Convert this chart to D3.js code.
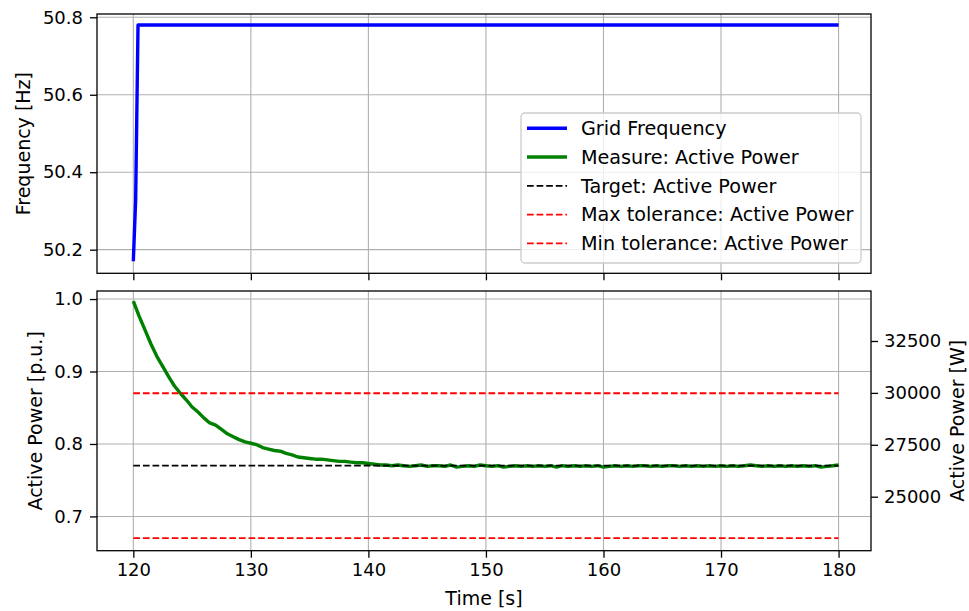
<!DOCTYPE html>
<html><head><meta charset="utf-8">
<script src="https://cdn.jsdelivr.net/npm/d3@7"></script>
<style>body{margin:0;background:#fff} text{font-family:"DejaVu Sans",sans-serif;fill:#000}</style>
</head><body><svg id="c" width="969" height="611"></svg>
<script>
// ---------- data ----------
const timeTicks = [120,130,140,150,160,170,180];
const freqTicks = [50.2,50.4,50.6,50.8];
const puTicks = [0.7,0.8,0.9,1.0];
const wTicks = [25000,27500,30000,32500];

const timeDomain = [116.91, 182.76];
const freqDomain = [50.139, 50.8085];
const puDomain = [0.6527, 1.0111];
const wDomain = [22399, 34908];

const freqTime = [120, 120.2, 120.4, 180];
const freqValues = [50.17, 50.33, 50.78, 50.78];

const powerTime = [
120,120.5,121,121.5,122,122.5,123,123.5,124,124.5,125,125.5,126,126.5,127,127.5,128,128.5,129,129.5,
130,130.5,131,131.5,132,132.5,133,133.5,134,134.5,135,135.5,136,136.5,137,137.5,138,138.5,139,139.5,
140,140.5,141,141.5,142,142.5,143,143.5,144,144.5,145,145.5,146,146.5,147,147.5,148,148.5,149,149.5,
150,150.5,151,151.5,152,152.5,153,153.5,154,154.5,155,155.5,156,156.5,157,157.5,158,158.5,159,159.5,
160,160.5,161,161.5,162,162.5,163,163.5,164,164.5,165,165.5,166,166.5,167,167.5,168,168.5,169,169.5,
170,170.5,171,171.5,172,172.5,173,173.5,174,174.5,175,175.5,176,176.5,177,177.5,178,178.5,179,179.5,
180];
const powerValues = [
0.997,0.976,0.957,0.938,0.921,0.907,0.893,0.880,0.870,0.861,0.851,0.844,0.836,0.829,0.826,0.820,0.814,0.810,0.806,0.803,
0.801,0.799,0.795,0.793,0.791,0.790,0.787,0.785,0.782,0.781,0.780,0.779,0.779,0.778,0.777,0.776,0.776,0.775,0.774,0.774,
0.773,0.772,0.771,0.771,0.770,0.771,0.770,0.769,0.770,0.771,0.769,0.770,0.770,0.769,0.771,0.768,0.769,0.770,0.769,0.771,
0.770,0.769,0.770,0.768,0.769,0.770,0.769,0.770,0.769,0.770,0.769,0.770,0.768,0.770,0.769,0.770,0.769,0.770,0.769,0.770,
0.768,0.769,0.770,0.769,0.770,0.769,0.770,0.770,0.769,0.770,0.769,0.770,0.770,0.769,0.770,0.769,0.770,0.769,0.770,0.769,
0.770,0.769,0.770,0.769,0.770,0.771,0.770,0.769,0.770,0.769,0.770,0.769,0.770,0.769,0.770,0.769,0.770,0.768,0.769,0.770,
0.771];

const refTime = [120, 180];
const targetValue = [0.77, 0.77];
const maxTolValue = [0.87, 0.87];
const minTolValue = [0.67, 0.67];

const legendLabels = ["Grid Frequency","Measure: Active Power","Target: Active Power","Max tolerance: Active Power","Min tolerance: Active Power"];

// ---------- layout ----------
const svg = d3.select("#c");
const L = 97, R = 871;
const T1 = 14, B1 = 273.3, T2 = 291, B2 = 550.7;
const FS = 18;
const AFS = 19;
const LFS = 19.2;
const TL = 7;

const x = d3.scaleLinear().domain(timeDomain).range([L, R]);
const yF = d3.scaleLinear().domain(freqDomain).range([B1, T1]);
const yP = d3.scaleLinear().domain(puDomain).range([B2, T2]);
const yW = d3.scaleLinear().domain(wDomain).range([B2, T2]);

svg.append("defs").html(`
 <clipPath id="clip1"><rect x="${L}" y="${T1}" width="${R-L}" height="${B1-T1}"/></clipPath>
 <clipPath id="clip2"><rect x="${L}" y="${T2}" width="${R-L}" height="${B2-T2}"/></clipPath>`);

function grid(yScale, yTicks, top, bottom) {
  const g = svg.append("g").attr("stroke","#b0b0b0").attr("stroke-width",1.1);
  g.selectAll("line.v").data(timeTicks).join("line")
    .attr("x1",d=>x(d)).attr("x2",d=>x(d)).attr("y1",top).attr("y2",bottom);
  g.selectAll("line.h").data(yTicks).join("line")
    .attr("x1",L).attr("x2",R).attr("y1",d=>yScale(d)).attr("y2",d=>yScale(d));
}
grid(yF, freqTicks, T1, B1);
grid(yP, puTicks, T2, B2);

// lines
const g1 = svg.append("g").attr("clip-path","url(#clip1)");
g1.append("path")
  .attr("d", d3.line().x((d,i)=>x(freqTime[i])).y(d=>yF(d))(freqValues))
  .attr("fill","none").attr("stroke","#0000ff").attr("stroke-width",3.4).attr("stroke-linejoin","round");

const g2 = svg.append("g").attr("clip-path","url(#clip2)");
const lineP = d3.line().x((d,i)=>x(powerTime[i])).y(d=>yP(d));
const lineRef = d3.line().x((d,i)=>x(refTime[i])).y(d=>yP(d));
g2.append("path").attr("d", lineP(powerValues))
  .attr("fill","none").attr("stroke","#008000").attr("stroke-width",3.4).attr("stroke-linejoin","round");
g2.append("path").attr("d", lineRef(targetValue))
  .attr("fill","none").attr("stroke","#000").attr("stroke-width",1.8).attr("stroke-dasharray","6.7,2.9");
g2.append("path").attr("d", lineRef(maxTolValue))
  .attr("fill","none").attr("stroke","#ff0000").attr("stroke-width",1.8).attr("stroke-dasharray","6.7,2.9");
g2.append("path").attr("d", lineRef(minTolValue))
  .attr("fill","none").attr("stroke","#ff0000").attr("stroke-width",1.8).attr("stroke-dasharray","6.7,2.9");

// axes
function styleAxis(g){
  g.select(".domain").remove();
  g.selectAll(".tick line").attr("stroke","#000").attr("stroke-width",1.3);
  g.selectAll(".tick text").attr("font-size",FS).attr("font-family","DejaVu Sans").attr("fill","#000");
}
// top plot
svg.append("g").attr("transform",`translate(0,${B1})`)
  .call(d3.axisBottom(x).tickValues(timeTicks).tickSize(TL).tickFormat(""))
  .call(styleAxis);
svg.append("g").attr("transform",`translate(${L},0)`)
  .call(d3.axisLeft(yF).tickValues(freqTicks).tickSize(TL).tickPadding(7).tickFormat(d3.format(".1f")))
  .call(styleAxis);
// bottom plot
svg.append("g").attr("transform",`translate(0,${B2})`)
  .call(d3.axisBottom(x).tickValues(timeTicks).tickSize(TL).tickPadding(6).tickFormat(d3.format("d")))
  .call(styleAxis);
svg.append("g").attr("transform",`translate(${L},0)`)
  .call(d3.axisLeft(yP).tickValues(puTicks).tickSize(TL).tickPadding(7).tickFormat(d3.format(".1f")))
  .call(styleAxis);
svg.append("g").attr("transform",`translate(${R},0)`)
  .call(d3.axisRight(yW).tickValues(wTicks).tickSize(TL).tickPadding(6).tickFormat(d3.format("d")))
  .call(styleAxis);

// spines
[[T1,B1],[T2,B2]].forEach(([t,b])=>{
  svg.append("rect").attr("x",L).attr("y",t).attr("width",R-L).attr("height",b-t)
    .attr("fill","none").attr("stroke","#000").attr("stroke-width",1.3);
});

// axis labels
function vlabel(cx, cy, txt){
  svg.append("text").attr("transform",`translate(${cx},${cy}) rotate(-90)`)
    .attr("text-anchor","middle").attr("dy","0.35em").attr("font-size",AFS).text(txt);
}
vlabel(23, (T1+B1)/2, "Frequency [Hz]");
vlabel(35, (T2+B2)/2, "Active Power [p.u.]");
vlabel(957.5, (T2+B2)/2, "Active Power [W]");
svg.append("text").attr("x",(L+R)/2).attr("y",605).attr("text-anchor","middle")
  .attr("font-size",AFS).text("Time [s]");

// legend
const lg = svg.append("g");
lg.append("rect").attr("x",521).attr("y",113).attr("width",340).attr("height",150).attr("rx",4)
  .attr("fill","#fff").attr("fill-opacity",0.8).attr("stroke","#cccccc").attr("stroke-width",1.3);
const legStyles = [
  {c:"#0000ff", w:3.4, d:null},
  {c:"#008000", w:3.4, d:null},
  {c:"#000", w:1.8, d:"6.7,2.9"},
  {c:"#ff0000", w:1.8, d:"6.7,2.9"},
  {c:"#ff0000", w:1.8, d:"6.7,2.9"}
];
legendLabels.forEach((lab,i)=>{
  const cy = 128.3 + i*28.75;
  const s = legStyles[i];
  const ln = lg.append("line").attr("x1",527).attr("x2",567).attr("y1",cy).attr("y2",cy)
    .attr("stroke",s.c).attr("stroke-width",s.w);
  if (s.d) ln.attr("stroke-dasharray",s.d);
  lg.append("text").attr("x",581).attr("y",cy).attr("dy","0.35em").attr("font-size",LFS).text(lab);
});
</script></body></html>
